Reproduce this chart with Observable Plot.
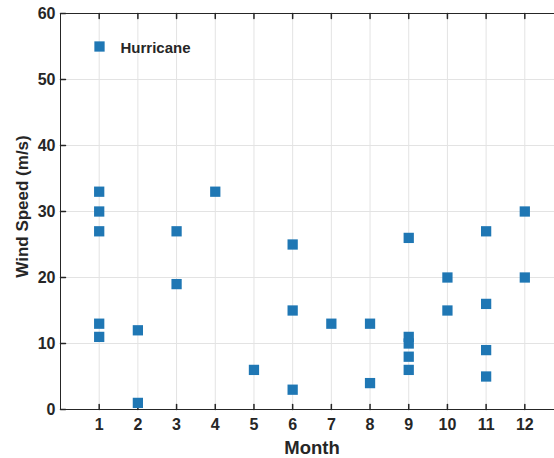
<!DOCTYPE html>
<html>
<head>
<meta charset="utf-8">
<script src="https://cdn.jsdelivr.net/npm/d3@7"></script>
<script src="https://cdn.jsdelivr.net/npm/@observablehq/plot@0.6"></script>
<style>
  html, body { margin: 0; padding: 0; background: #fff; }
  #chart { width: 554px; height: 458px; overflow: hidden; }
</style>
</head>
<body>
<div id="chart"></div>
<script>
const months = [1,1,1,1,1, 2,2, 3,3, 4, 5, 6,6,6, 7, 8,8, 9,9,9,9,9, 10,10, 11,11,11,11, 12,12];
const speeds = [33,30,27,13,11, 12,1, 27,19, 33, 6, 25,15,3, 13, 13,4, 26,11,10,8,6, 20,15, 27,16,9,5, 30,20];
const xTicks = [1,2,3,4,5,6,7,8,9,10,11,12];
const yTicks = [0,10,20,30,40,50,60];
const seriesName = "Hurricane";

const data = months.map((m, i) => ({month: m, speed: speeds[i]}));
const color = "#1f77b4";
const axisColor = "#262626";
const font = "'Liberation Sans', Arial, Helvetica, sans-serif";
const line = {draw(ctx, l) { ctx.moveTo(0, 0); ctx.lineTo(0, -l); }};

const chart = Plot.plot({
  width: 554,
  height: 458,
  marginLeft: 60,
  marginTop: 13,
  marginBottom: 49,
  marginRight: -9,
  style: {fontFamily: font, color: axisColor, background: "#fff"},
  x: {domain: [0, 13]},
  y: {domain: [0, 60]},
  marks: [
    Plot.gridX(xTicks, {stroke: "#e3e3e3", strokeOpacity: 1}),
    Plot.gridY(yTicks, {stroke: "#e3e3e3", strokeOpacity: 1}),
    Plot.ruleY([0, 60], {stroke: axisColor, strokeWidth: 1}),
    Plot.ruleX([0], {stroke: axisColor, strokeWidth: 1}),
    Plot.vector(xTicks, {x: d => d, y: 0, length: 5, rotate: 0, anchor: "start", shape: line, stroke: axisColor}),
    Plot.vector(xTicks, {x: d => d, y: 60, length: 5, rotate: 180, anchor: "start", shape: line, stroke: axisColor}),
    Plot.vector(yTicks, {x: 0, y: d => d, length: 5, rotate: 90, anchor: "start", shape: line, stroke: axisColor}),
    Plot.axisX(xTicks, {tickSize: 0, tickPadding: 9, fontSize: 16, fontWeight: "bold", label: null, fill: axisColor}),
    Plot.axisY(yTicks, {tickSize: 0, tickPadding: 5, fontSize: 16, fontWeight: "bold", label: null, fill: axisColor}),
    Plot.text(["Wind Speed (m/s)"], {frameAnchor: "left", textAnchor: "middle", lineAnchor: "middle", dx: -38, dy: -5, rotate: -90, fontSize: 17, fontWeight: "bold", fill: axisColor}),
    Plot.text(["Month"], {frameAnchor: "bottom", lineAnchor: "middle", dy: 39, fontSize: 18.5, fontWeight: "bold", fill: axisColor}),
    Plot.dot(data, {x: "month", y: "speed", symbol: "square", r: 5.8, fill: color, stroke: null}),
    Plot.dot([seriesName], {frameAnchor: "top-left", dx: 39, dy: 33, symbol: "square", r: 5.8, fill: color}),
    Plot.text([seriesName], {frameAnchor: "top-left", lineAnchor: "middle", dx: 60, dy: 34.5, textAnchor: "start", fontSize: 15, fontWeight: "bold", fill: axisColor})
  ]
});
document.getElementById("chart").appendChild(chart);
</script>
</body>
</html>
